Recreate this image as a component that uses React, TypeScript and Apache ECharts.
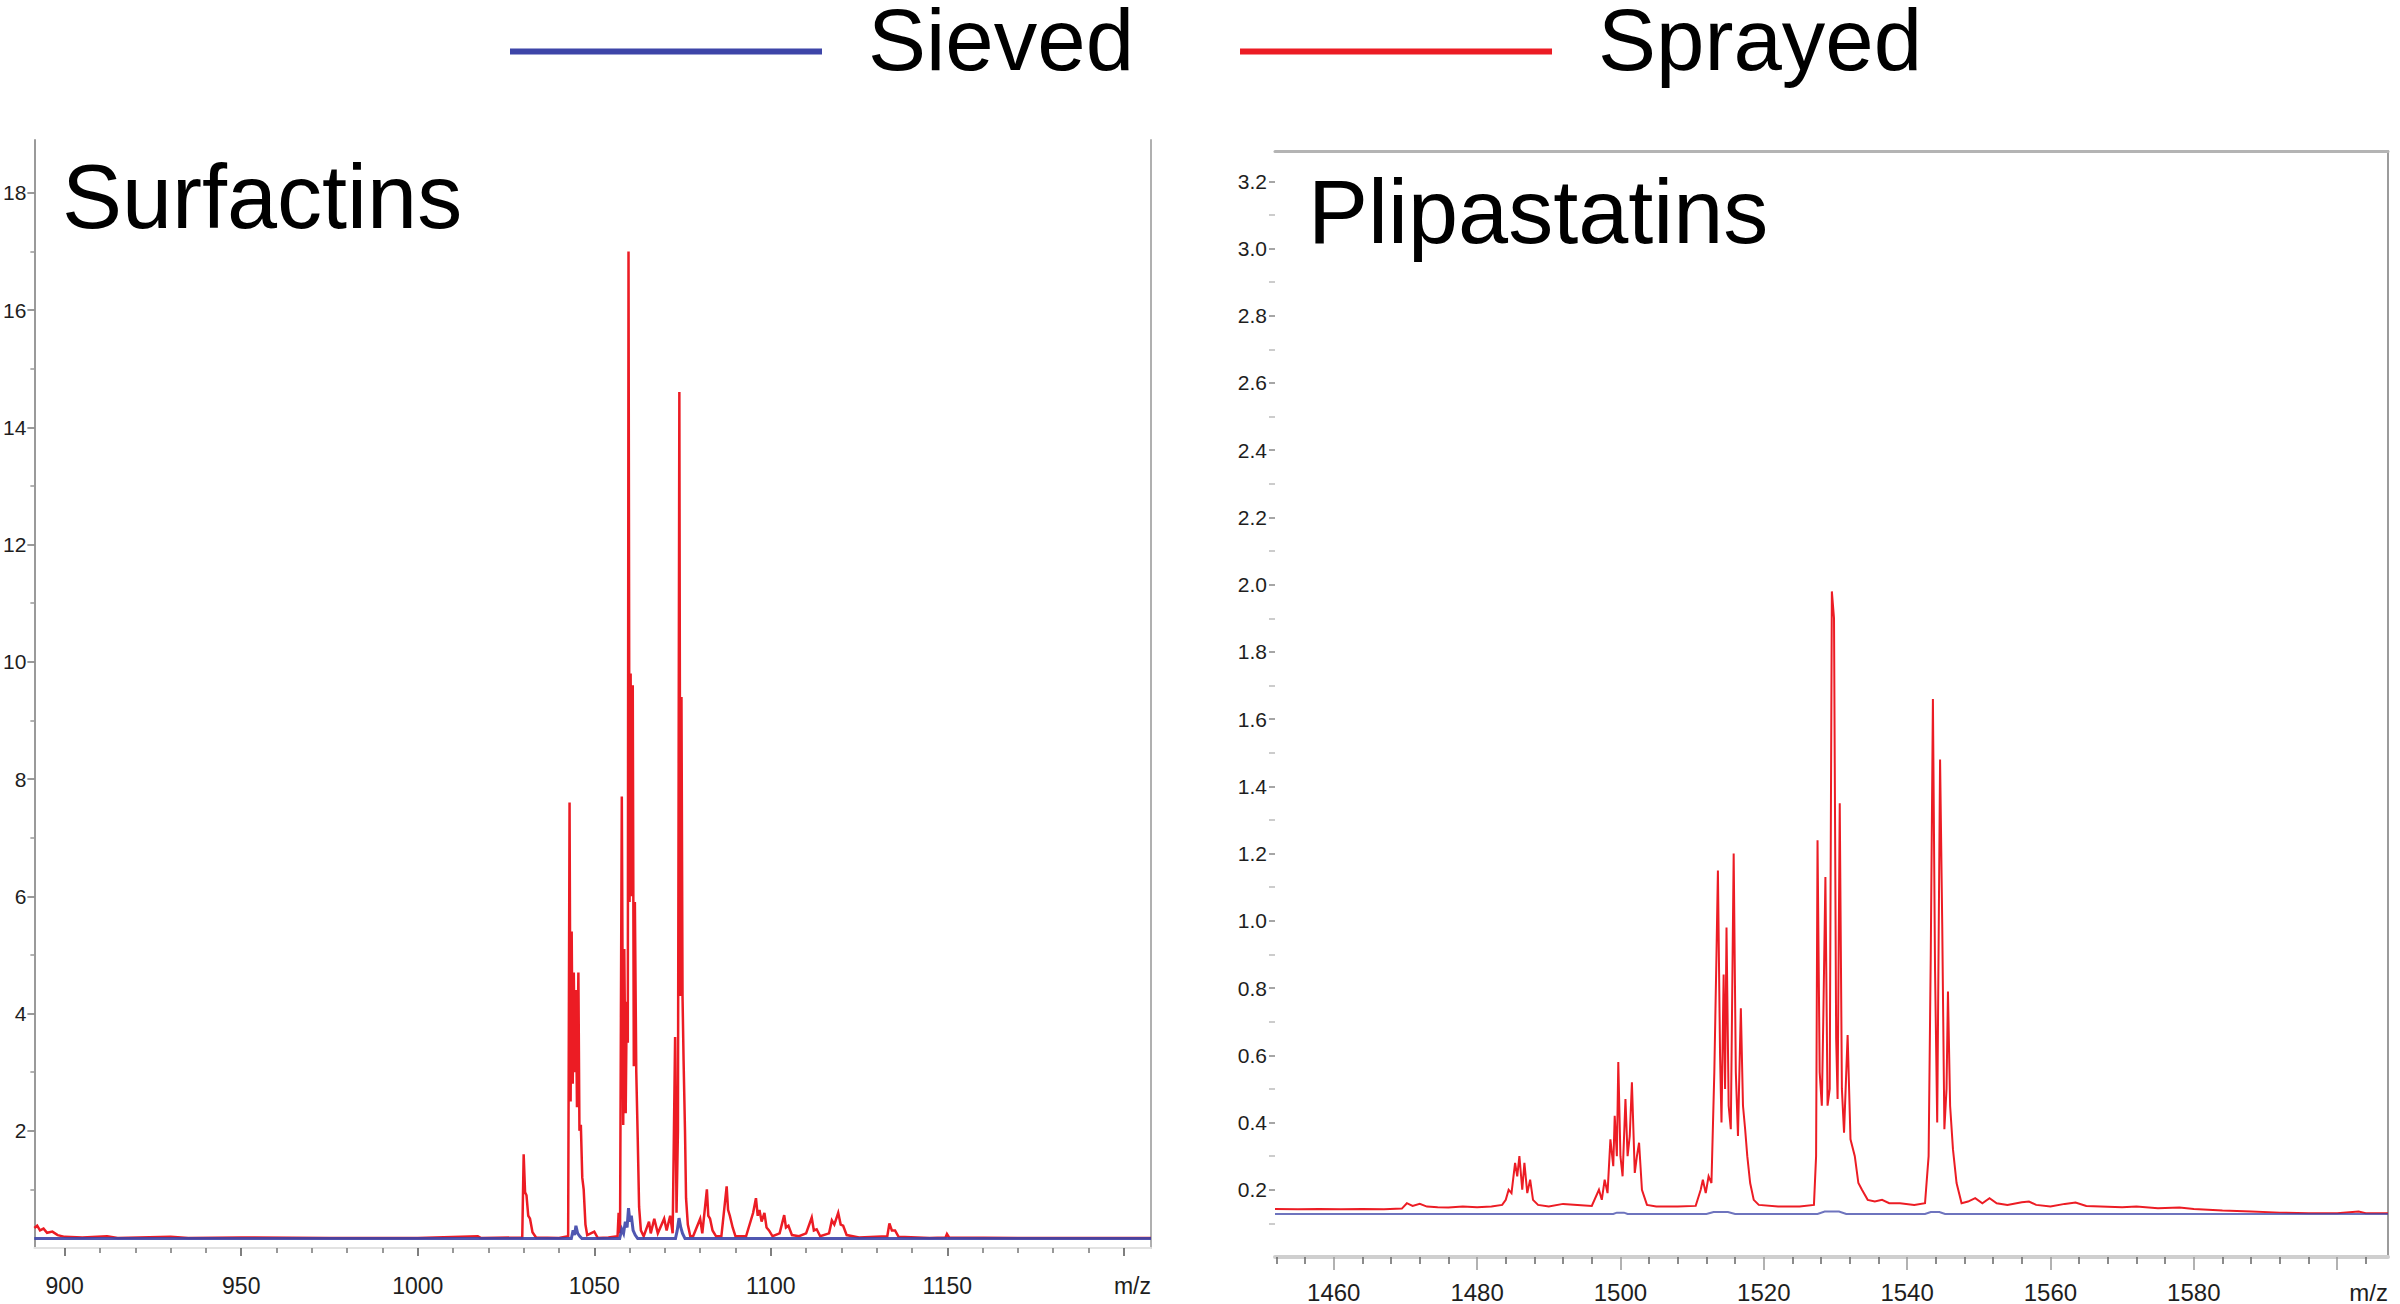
import React, { useEffect, useRef } from 'react';
import * as echarts from 'echarts';

const FONT = 'Liberation Sans, Arial, Helvetica, sans-serif';
const RED = '#ec1c24';
const BLUE = '#3d45a8';

const legendNames = ['Sieved', 'Sprayed'];
const panelTitles = ['Surfactins', 'Plipastatins'];
const axisUnit = 'm/z';

// ---- Surfactins panel axes ----
const surfXRange = [891.4, 1207.7];
const surfYRange = [0, 18.9];
const surfXMajor = [900, 950, 1000, 1050, 1100, 1150, 1200];
const surfXLabels = [900, 950, 1000, 1050, 1100, 1150];
const surfXMinor = [910, 920, 930, 940, 960, 970, 980, 990, 1010, 1020, 1030, 1040, 1060, 1070, 1080, 1090, 1110, 1120, 1130, 1140, 1160, 1170, 1180, 1190];
const surfYMajor = [2, 4, 6, 8, 10, 12, 14, 16, 18];
const surfYMinor = [1, 3, 5, 7, 9, 11, 13, 15, 17];

// ---- Plipastatins panel axes ----
const plipXRange = [1451.8, 1607.1];
const plipYRange = [0, 3.29];
const plipXMajor = [1460, 1480, 1500, 1520, 1540, 1560, 1580, 1600];
const plipXLabels = [1460, 1480, 1500, 1520, 1540, 1560, 1580];
const plipXMinor = [1452, 1456, 1464, 1468, 1472, 1476, 1484, 1488, 1492, 1496, 1504, 1508, 1512, 1516, 1524, 1528, 1532, 1536, 1544, 1548, 1552, 1556, 1564, 1568, 1572, 1576, 1584, 1588, 1592, 1596, 1604];
const plipYMajor = [0.2, 0.4, 0.6, 0.8, 1.0, 1.2, 1.4, 1.6, 1.8, 2.0, 2.2, 2.4, 2.6, 2.8, 3.0, 3.2];
const plipYMinor = [0.1, 0.3, 0.5, 0.7, 0.9, 1.1, 1.3, 1.5, 1.7, 1.9, 2.1, 2.3, 2.5, 2.7, 2.9, 3.1];

// ---- Spectra (m/z, intensity) ----
const surfactinSprayed = [
  [891.4, 0.34], [892.2, 0.38], [893.0, 0.3], [894.0, 0.33], [895.0, 0.26], [896.5, 0.28], [898.0, 0.22], [900.0, 0.19],
  [905, 0.18], [912, 0.2], [915, 0.17], [930, 0.19], [935, 0.17], [950, 0.18], [975, 0.17], [1000, 0.17], [1017, 0.2], [1018, 0.17],
  [1029.6, 0.18], [1030.0, 1.6], [1030.4, 0.95], [1030.8, 0.9], [1031.3, 0.55], [1031.8, 0.5], [1032.5, 0.27], [1033.5, 0.18],
  [1040, 0.17], [1042.6, 0.2],
  [1043.0, 7.6], [1043.3, 2.5], [1043.6, 5.4], [1043.9, 2.8], [1044.2, 4.7], [1044.5, 3.0], [1044.8, 4.4], [1045.1, 2.4],
  [1045.5, 4.7], [1045.8, 2.0], [1046.2, 2.1], [1046.6, 1.2], [1047.0, 1.0], [1047.5, 0.4], [1048.0, 0.22], [1050.0, 0.28],
  [1051, 0.17], [1054, 0.18], [1056.6, 0.2], [1056.9, 0.6], [1057.3, 0.25],
  [1057.8, 7.7], [1058.2, 2.1], [1058.5, 5.1], [1058.9, 2.3], [1059.2, 4.2], [1059.5, 3.5], [1059.7, 17.0], [1060.0, 5.9],
  [1060.3, 9.8], [1060.6, 6.0], [1060.9, 9.6], [1061.2, 3.1], [1061.5, 5.9], [1061.9, 3.0], [1062.3, 1.9], [1062.7, 0.7],
  [1063.2, 0.3], [1064, 0.2], [1065.5, 0.45], [1066, 0.25], [1067, 0.5], [1068, 0.25], [1069.8, 0.5], [1070.5, 0.3],
  [1071.5, 0.55], [1072.2, 0.25],
  [1072.9, 3.6], [1073.3, 0.6], [1073.7, 2.0], [1074.1, 14.6], [1074.4, 4.3], [1074.7, 9.4], [1075.0, 4.3], [1075.3, 3.2],
  [1075.7, 2.0], [1076.0, 0.85], [1076.5, 0.4], [1077.2, 0.2],
  [1078, 0.2], [1079, 0.35], [1080.0, 0.5], [1080.6, 0.25], [1081.9, 1.0], [1082.3, 0.55], [1082.8, 0.5], [1083.5, 0.3],
  [1084.5, 0.2], [1086, 0.2], [1087.5, 1.05], [1087.9, 0.65], [1088.4, 0.55], [1089.2, 0.35], [1090, 0.2], [1093, 0.2],
  [1095.0, 0.6], [1095.8, 0.85], [1096.3, 0.55], [1096.8, 0.65], [1097.4, 0.45], [1098.2, 0.6], [1098.8, 0.35], [1099.5, 0.3],
  [1100.5, 0.2], [1102.5, 0.25], [1103.8, 0.56], [1104.3, 0.35], [1105, 0.38], [1106, 0.22], [1108, 0.2], [1110, 0.25],
  [1111.6, 0.52], [1112.2, 0.3], [1113, 0.32], [1114, 0.2], [1116.5, 0.25], [1117.3, 0.47], [1118, 0.4], [1119.1, 0.6],
  [1119.8, 0.4], [1120.5, 0.38], [1121.5, 0.22], [1125, 0.18], [1133.0, 0.2], [1133.6, 0.42], [1134.3, 0.3], [1135.2, 0.3],
  [1136.2, 0.19], [1145, 0.17], [1149.5, 0.18], [1149.9, 0.24], [1150.5, 0.18], [1170, 0.17], [1207.7, 0.17],
];

const surfactinSieved = [
  [891.4, 0.16], [1043.5, 0.16], [1044.0, 0.3], [1044.4, 0.22], [1044.8, 0.38], [1045.3, 0.25], [1045.9, 0.2], [1046.5, 0.16],
  [1057.2, 0.16], [1057.8, 0.32], [1058.3, 0.25], [1058.8, 0.45], [1059.3, 0.35], [1059.7, 0.68], [1060.1, 0.45], [1060.5, 0.55],
  [1061.0, 0.3], [1061.6, 0.22], [1062.3, 0.16], [1073.0, 0.16], [1073.5, 0.3], [1074.0, 0.51], [1074.5, 0.35], [1075.0, 0.25],
  [1075.7, 0.16], [1207.7, 0.16],
];

const plipastatinSprayed = [
  [1451.8, 0.143], [1455, 0.142], [1458, 0.143], [1461, 0.142], [1464, 0.143], [1467, 0.142], [1469.5, 0.144], [1470.2, 0.16],
  [1471, 0.152], [1472, 0.158], [1473, 0.15], [1474.5, 0.148], [1476, 0.147], [1478, 0.15], [1480, 0.148], [1482, 0.15],
  [1483.5, 0.155], [1484.0, 0.17], [1484.4, 0.2], [1484.8, 0.19], [1485.3, 0.28], [1485.6, 0.24], [1485.9, 0.3], [1486.3, 0.2],
  [1486.6, 0.28], [1487.0, 0.19], [1487.4, 0.23], [1487.8, 0.17], [1488.5, 0.155], [1490, 0.15], [1492, 0.158], [1494, 0.155],
  [1496, 0.152], [1497.0, 0.2], [1497.4, 0.17], [1497.8, 0.23], [1498.2, 0.19], [1498.6, 0.35], [1499.0, 0.27], [1499.2, 0.42],
  [1499.5, 0.3], [1499.7, 0.58], [1500.0, 0.3], [1500.3, 0.24], [1500.7, 0.47], [1501.0, 0.3], [1501.3, 0.36], [1501.6, 0.52],
  [1502.0, 0.25], [1502.3, 0.3], [1502.6, 0.34], [1503.0, 0.2], [1503.7, 0.155], [1505, 0.15], [1508, 0.15], [1510.5, 0.152],
  [1511.2, 0.2], [1511.5, 0.23], [1511.9, 0.19], [1512.3, 0.24], [1512.7, 0.22], [1513.1, 0.55], [1513.4, 0.9], [1513.6, 1.15],
  [1513.9, 0.6], [1514.1, 0.4], [1514.4, 0.84], [1514.6, 0.5], [1514.8, 0.98], [1515.1, 0.45], [1515.4, 0.38], [1515.8, 1.2],
  [1516.1, 0.55], [1516.4, 0.36], [1516.8, 0.74], [1517.1, 0.45], [1517.4, 0.38], [1517.7, 0.3], [1518.1, 0.22], [1518.6, 0.17],
  [1519.3, 0.155], [1522, 0.15], [1525, 0.15], [1527.0, 0.155], [1527.3, 0.3], [1527.5, 1.24], [1527.8, 0.55], [1528.1, 0.45],
  [1528.3, 0.7], [1528.6, 1.13], [1528.9, 0.45], [1529.2, 0.5], [1529.5, 1.98], [1529.8, 1.9], [1530.1, 0.65], [1530.3, 0.47],
  [1530.6, 1.35], [1530.9, 0.5], [1531.2, 0.37], [1531.7, 0.66], [1532.1, 0.35], [1532.7, 0.3], [1533.2, 0.22], [1533.7, 0.2],
  [1534.5, 0.17], [1535.5, 0.165], [1536.5, 0.17], [1537.5, 0.16], [1539, 0.16], [1541, 0.155], [1542.5, 0.16], [1543.0, 0.3],
  [1543.3, 0.9], [1543.6, 1.66], [1543.9, 0.85], [1544.2, 0.4], [1544.6, 1.48], [1544.9, 0.99], [1545.2, 0.38], [1545.5, 0.5],
  [1545.7, 0.79], [1546.0, 0.45], [1546.4, 0.32], [1546.9, 0.22], [1547.6, 0.16], [1548.5, 0.165], [1549.5, 0.175], [1550.5, 0.16],
  [1551.5, 0.175], [1552.5, 0.16], [1554, 0.155], [1556, 0.163], [1557, 0.165], [1558, 0.155], [1560, 0.15], [1562, 0.158],
  [1563.5, 0.162], [1565, 0.152], [1567, 0.15], [1570, 0.148], [1572, 0.15], [1575, 0.145], [1578, 0.147], [1580, 0.143],
  [1584, 0.138], [1588, 0.135], [1592, 0.132], [1596, 0.13], [1600, 0.13], [1603, 0.135], [1604, 0.13], [1607.1, 0.13],
];

const plipastatinSieved = [
  [1451.8, 0.128], [1499, 0.128], [1499.5, 0.132], [1500.5, 0.132], [1501, 0.128], [1512, 0.128], [1513, 0.134], [1515, 0.134],
  [1516, 0.128], [1527.5, 0.128], [1528.5, 0.135], [1530.5, 0.135], [1531.5, 0.128], [1542.5, 0.128], [1543.3, 0.134],
  [1544.5, 0.134], [1545.3, 0.128], [1607.1, 0.128],
];

const hidden = { show: false };

function baseAxis(gridIndex: number, range: number[], extra: any) {
  return {
    type: 'value',
    gridIndex,
    min: range[0],
    max: range[1],
    splitLine: hidden,
    axisLine: hidden,
    axisTick: hidden,
    axisLabel: hidden,
    ...extra,
  };
}

function buildOption() {
  const labelText = { fontFamily: FONT, color: '#1e1e1e' };
  const plain = (v: number) => String(v);
  const xAxis = [
    // 0: surfactin major ticks + labels
    baseAxis(0, surfXRange, {
      position: 'bottom',
      offset: 7,
      axisTick: { show: true, customValues: surfXMajor, length: 8, lineStyle: { color: '#555', width: 1.5 } },
      axisLabel: { show: true, customValues: surfXLabels, fontSize: 23, margin: 19, formatter: plain, ...labelText },
    }),
    // 1: surfactin minor ticks
    baseAxis(0, surfXRange, {
      position: 'bottom',
      offset: 9,
      axisTick: { show: true, customValues: surfXMinor, length: 5, lineStyle: { color: '#777', width: 1.5 } },
    }),
    // 2: surfactin top frame
    baseAxis(0, surfXRange, {
      position: 'top',
      axisLine: { show: true, lineStyle: { color: '#e2e2e2', width: 2 } },
    }),
    // 3: surfactin unit label
    baseAxis(0, surfXRange, {
      position: 'bottom',
      offset: 7,
      axisLabel: {
        show: true,
        customValues: [surfXRange[1]],
        formatter: () => axisUnit,
        align: 'right',
        fontSize: 23,
        margin: 19,
        ...labelText,
      },
    }),
    // 4: plipastatin frame bottom
    baseAxis(1, plipXRange, {
      position: 'bottom',
      axisLine: { show: true, lineStyle: { color: '#cfcfcf', width: 4 } },
    }),
    // 5: plipastatin major ticks + labels
    baseAxis(1, plipXRange, {
      position: 'bottom',
      offset: 7,
      axisTick: { show: true, customValues: plipXMajor, length: 13, lineStyle: { color: '#999', width: 1.5 } },
      axisLabel: { show: true, customValues: plipXLabels, fontSize: 24, margin: 16, formatter: plain, ...labelText },
    }),
    // 6: plipastatin minor ticks
    baseAxis(1, plipXRange, {
      position: 'bottom',
      offset: 7,
      axisTick: { show: true, customValues: plipXMinor, length: 7, lineStyle: { color: '#666', width: 1.5 } },
    }),
    // 7: plipastatin top frame
    baseAxis(1, plipXRange, {
      position: 'top',
      axisLine: { show: true, lineStyle: { color: '#b4b4b4', width: 3 } },
    }),
    // 8: plipastatin unit label
    baseAxis(1, plipXRange, {
      position: 'bottom',
      offset: 7,
      axisLabel: {
        show: true,
        customValues: [plipXRange[1]],
        formatter: () => axisUnit,
        align: 'right',
        fontSize: 24,
        margin: 16,
        ...labelText,
      },
    }),
  ];

  const yAxis = [
    // 0: surfactin left axis
    baseAxis(0, surfYRange, {
      position: 'left',
      axisLine: { show: true, lineStyle: { color: '#9a9a9a', width: 2 } },
      axisTick: { show: true, customValues: surfYMajor, length: 7, lineStyle: { color: '#777', width: 1.5 } },
      axisLabel: { show: true, customValues: surfYMajor, fontSize: 21, margin: 8, ...labelText },
    }),
    // 1: surfactin minor ticks
    baseAxis(0, surfYRange, {
      position: 'left',
      axisTick: { show: true, customValues: surfYMinor, length: 4, lineStyle: { color: '#999', width: 1.5 } },
    }),
    // 2: surfactin right frame
    baseAxis(0, surfYRange, {
      position: 'right',
      axisLine: { show: true, lineStyle: { color: '#b0b0b0', width: 2 } },
    }),
    // 3: plipastatin left axis
    baseAxis(1, plipYRange, {
      position: 'left',
      axisTick: { show: true, customValues: plipYMajor, length: 6, lineStyle: { color: '#888', width: 1.5 } },
      axisLabel: {
        show: true,
        customValues: plipYMajor,
        fontSize: 21,
        margin: 8,
        formatter: (v: number) => v.toFixed(1),
        ...labelText,
      },
    }),
    // 4: plipastatin minor ticks
    baseAxis(1, plipYRange, {
      position: 'left',
      axisTick: { show: true, customValues: plipYMinor, length: 6, lineStyle: { color: '#bbb', width: 1.5 } },
    }),
    // 5: plipastatin right frame
    baseAxis(1, plipYRange, {
      position: 'right',
      axisLine: { show: true, lineStyle: { color: '#9c9c9c', width: 2 } },
    }),
  ];

  const lineSeries = (name: string, data: number[][], xi: number, yi: number, color: string, width: number, z: number, opacity = 1) => ({
    type: 'line',
    name,
    data,
    xAxisIndex: xi,
    yAxisIndex: yi,
    showSymbol: false,
    symbol: 'none',
    silent: true,
    clip: true,
    z,
    color,
    itemStyle: { color },
    lineStyle: { color, width, opacity, join: 'miter' },
  });

  return {
    animation: false,
    backgroundColor: '#ffffff',
    textStyle: { fontFamily: FONT },
    title: [
      { text: panelTitles[0], left: 62, top: 152, padding: 0, textStyle: { fontFamily: FONT, fontSize: 90, fontWeight: 'normal', color: '#000' } },
      { text: panelTitles[1], left: 1308, top: 167, padding: 0, textStyle: { fontFamily: FONT, fontSize: 90, fontWeight: 'normal', color: '#000' } },
    ],
    legend: {
      data: legendNames,
      left: 510,
      top: -4,
      padding: 0,
      itemWidth: 312,
      itemHeight: 30,
      itemGap: 106,
      icon: 'path://M0,0M0,24L312,24L312,30L0,30Z',
      selectedMode: false,
      textStyle: { fontFamily: FONT, fontSize: 87, lineHeight: 70, color: '#000', padding: [0, 0, 0, 41] },
    },
    grid: [
      { left: 34, top: 140, width: 1117, height: 1108 },
      { left: 1275, top: 151, width: 1113, height: 1112 },
    ],
    xAxis,
    yAxis,
    series: [
      lineSeries('Sprayed', surfactinSprayed, 0, 0, RED, 2.5, 2),
      lineSeries('Sieved', surfactinSieved, 0, 0, BLUE, 3, 3, 0.9),
      lineSeries('Sprayed', plipastatinSprayed, 5, 3, RED, 2, 2),
      lineSeries('Sieved', plipastatinSieved, 5, 3, BLUE, 2, 3, 0.75),
    ],
  };
}

export default function App() {
  const ref = useRef<HTMLDivElement>(null);
  useEffect(() => {
    if (!ref.current) return;
    const chart = echarts.init(ref.current, null, { renderer: 'svg' });
    chart.setOption(buildOption() as any);
    return () => chart.dispose();
  }, []);
  return <div ref={ref} style={{ position: 'absolute', left: 0, top: 0, width: 2400, height: 1304 }} />;
}
